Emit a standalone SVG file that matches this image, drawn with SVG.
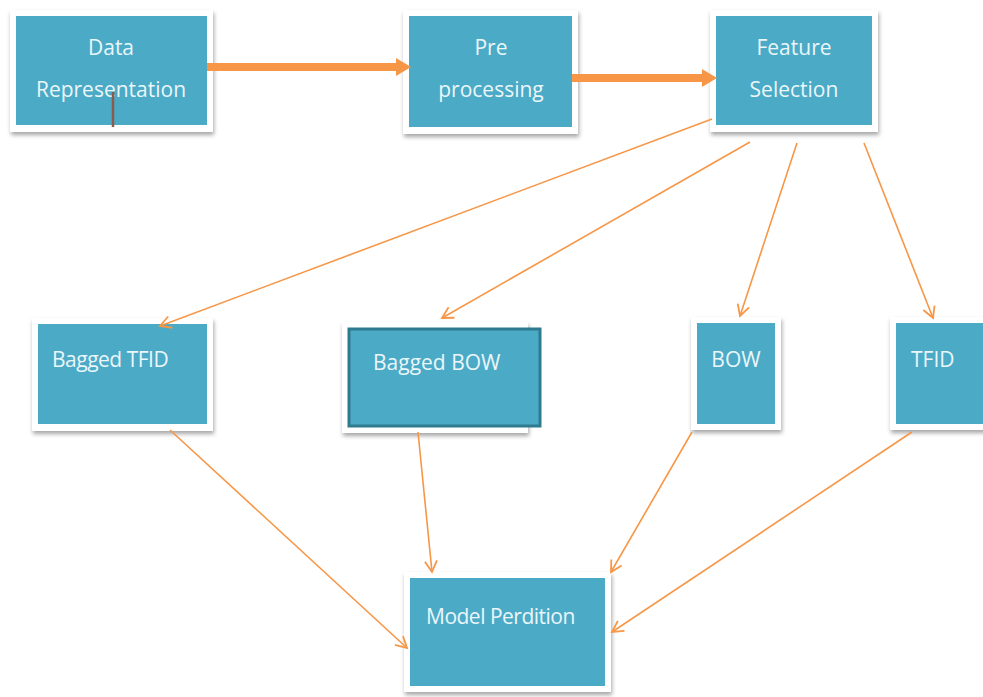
<svg xmlns="http://www.w3.org/2000/svg" width="983" height="697" viewBox="0 0 983 697">
<style>
.frame{fill:#ffffff;filter:url(#sh)}
.box{fill:#4BAAC6}
.t{font-family:"Open Sans","Liberation Sans",sans-serif;font-size:21px;fill:#EAF6FA;text-anchor:middle}
.tl{font-family:"Open Sans","Liberation Sans",sans-serif;font-size:21px;fill:#EAF6FA}
.thin{stroke:#F79646;stroke-width:1.6;fill:none;marker-end:url(#ah)}
.thick{stroke:#F79646;stroke-width:8;fill:none}
</style>
<defs>
<filter id="sh" x="-10%" y="-10%" width="120%" height="130%">
<feDropShadow dx="1" dy="3" stdDeviation="2" flood-color="#000" flood-opacity="0.35"/>
</filter>
<marker id="ah" markerWidth="14" markerHeight="14" refX="12" refY="7" orient="auto" markerUnits="userSpaceOnUse">
<path d="M1,1 L12,7 L1,13" fill="none" stroke="#F79646" stroke-width="1.8"/>
</marker>
</defs>
<rect width="983" height="697" fill="#ffffff"/>
<g id="n-data">
<rect class="frame" x="10" y="10" width="203" height="122"/>
<rect class="box" x="16" y="16" width="191" height="109"/>
<text class="t" x="111" y="55">Data</text>
<text class="t" x="111" y="97">Representation</text>
<line x1="113" y1="92" x2="113" y2="127" stroke="#8B5A4A" stroke-width="2.5"/>
</g>
<g id="n-pre">
<rect class="frame" x="403" y="10" width="175" height="124"/>
<rect class="box" x="409" y="16" width="163" height="111"/>
<text class="t" x="491" y="55">Pre</text>
<text class="t" x="491" y="97">processing</text>
</g>
<g id="n-feat">
<rect class="frame" x="710" y="10" width="168" height="122"/>
<rect class="box" x="716" y="16" width="156" height="109"/>
<text class="t" x="794" y="55">Feature</text>
<text class="t" x="794" y="97">Selection</text>
</g>
<g id="n-btfid">
<rect class="frame" x="32" y="318" width="181" height="113"/>
<rect class="box" x="38" y="324" width="169" height="100"/>
<text class="tl" x="52" y="367" style="letter-spacing:-0.5px">Bagged TFID</text>
</g>
<g id="n-bbow">
<rect class="frame" x="342" y="322" width="186" height="111"/>
<rect x="349" y="329" width="191" height="97" fill="#4BAAC6" stroke="#2F7A8F" stroke-width="3"/>
<text class="tl" x="373" y="370">Bagged BOW</text>
</g>
<g id="n-bow">
<rect class="frame" x="691" y="317" width="90" height="113"/>
<rect class="box" x="697" y="323" width="78" height="101"/>
<text class="t" x="736" y="367">BOW</text>
</g>
<g id="n-tfid">
<rect class="frame" x="890" y="317" width="100" height="113"/>
<rect class="box" x="896" y="323" width="87" height="101"/>
<text class="tl" x="911" y="367">TFID</text>
</g>
<g id="n-model">
<rect class="frame" x="404" y="572" width="207" height="120"/>
<rect class="box" x="410" y="578" width="195" height="108"/>
<text class="tl" x="426" y="624" style="letter-spacing:-0.5px">Model Perdition</text>
</g>
<g id="connectors">
<line class="thick" x1="207" y1="67" x2="398" y2="67"/>
<path d="M396,58 L411,67 L396,76 Z" fill="#F79646"/>
<line class="thick" x1="572" y1="78" x2="704" y2="78"/>
<path d="M702,69 L717,78 L702,87 Z" fill="#F79646"/>
<line class="thin" x1="712" y1="119" x2="160" y2="326"/>
<line class="thin" x1="750" y1="142" x2="442" y2="318"/>
<line class="thin" x1="797" y1="143" x2="740" y2="316"/>
<line class="thin" x1="864" y1="143" x2="933" y2="318"/>
<line class="thin" x1="170" y1="430" x2="407" y2="648"/>
<line class="thin" x1="418" y1="432" x2="432" y2="572"/>
<line class="thin" x1="692" y1="432" x2="611" y2="572"/>
<line class="thin" x1="912" y1="432" x2="612" y2="632"/>
</g>
</svg>
